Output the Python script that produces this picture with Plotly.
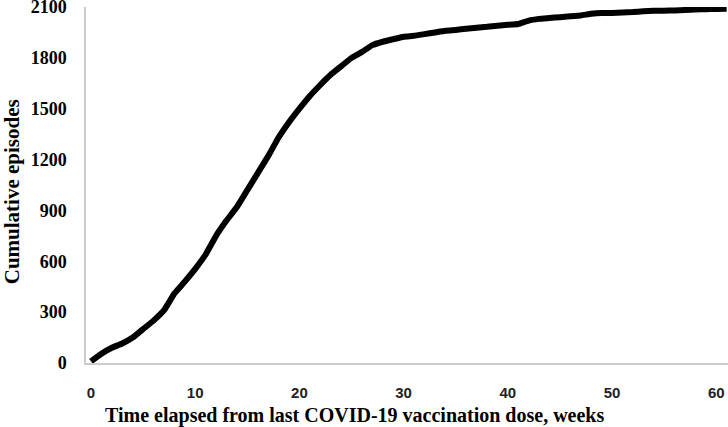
import plotly.graph_objects as go

# weeks since last dose and cumulative episode counts
weeks = list(range(0, 62))
episodes = [
    10, 55, 90, 115, 150, 200, 250, 310, 410, 480,
    555, 640, 750, 840, 920, 1020, 1120, 1220, 1330, 1420,
    1500, 1575, 1640, 1700, 1750, 1800, 1835, 1875, 1895, 1910,
    1925, 1930, 1940, 1950, 1960, 1965, 1972, 1978, 1983, 1990,
    1995, 2000, 2020, 2030, 2035, 2040, 2045, 2050, 2060, 2065,
    2065, 2067, 2070, 2075, 2078, 2078, 2080, 2082, 2085, 2087,
    2088, 2090,
]
x_ticks = [0, 10, 20, 30, 40, 50, 60]
y_ticks = [0, 300, 600, 900, 1200, 1500, 1800, 2100]

serif = "Liberation Serif"

fig = go.Figure()
fig.add_trace(go.Scatter(
    x=weeks, y=episodes, mode="lines",
    line=dict(color="black", width=6, shape="spline", smoothing=0.3),
    showlegend=False,
))

fig.update_layout(
    width=728, height=427,
    margin=dict(l=86, r=0, t=7, b=64),
    plot_bgcolor="white", paper_bgcolor="white",
    xaxis=dict(
        range=[-0.48, 61.13], tickvals=x_ticks, showgrid=False, zeroline=False,
        showline=True, linecolor="#cccccc", linewidth=1.5, ticks="",
        tickfont=dict(family="Liberation Sans", size=15, color="#222", weight="bold"),
        ticklabelstandoff=15, automargin=False, ticklabeloverflow="allow",
    ),
    yaxis=dict(
        range=[0, 2100], tickvals=y_ticks, showgrid=False, zeroline=False,
        showline=True, linecolor="#cccccc", linewidth=1.5, ticks="",
        tickfont=dict(family=serif, size=18, color="black", weight="bold"),
        ticklabelstandoff=14, automargin=False, ticklabeloverflow="allow",
    ),
    annotations=[
        dict(text="<b>Time elapsed from last COVID-19 vaccination dose, weeks</b>",
             x=0.419, y=-0.148, xref="paper", yref="paper", showarrow=False,
             xanchor="center", yanchor="middle",
             font=dict(family=serif, size=20, color="black")),
        dict(text="<b>Cumulative episodes</b>", textangle=-90,
             x=-0.115, y=0.48, xref="paper", yref="paper", showarrow=False,
             xanchor="center", yanchor="middle",
             font=dict(family=serif, size=21, color="black")),
    ],
)

fig.write_html(
    "out.html",
    config={"displayModeBar": False},
    post_script="document.body.style.margin='0px';",
)
